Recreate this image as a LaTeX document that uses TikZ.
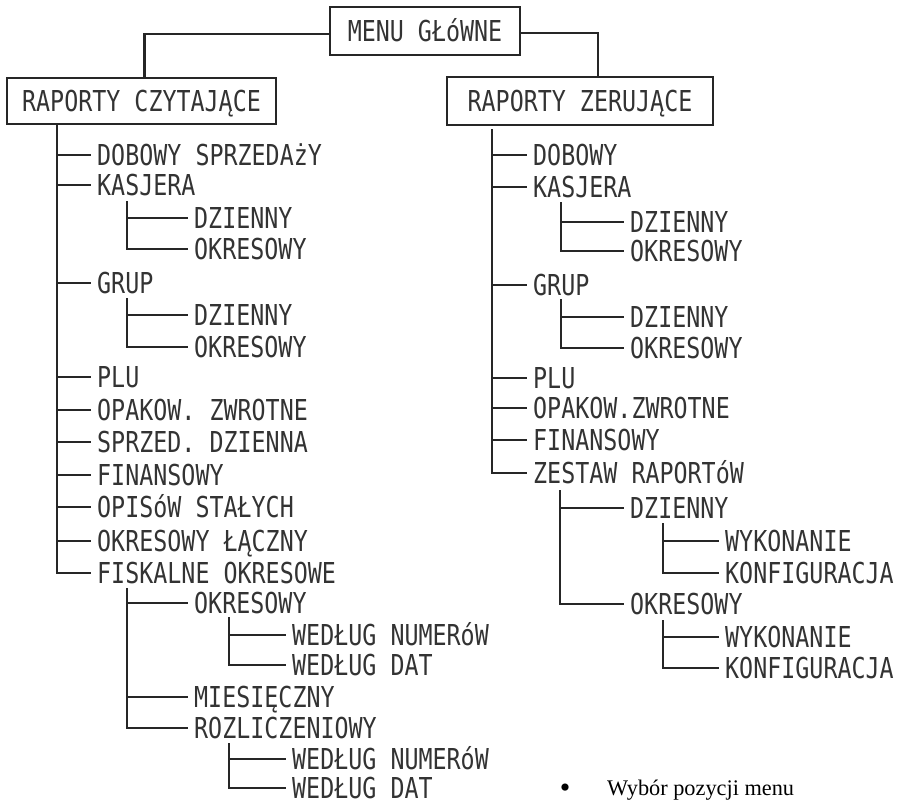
\documentclass[tikz,border=0pt]{standalone}
\usepackage{fontspec}
\setmainfont{Liberation Serif}
\newfontfamily\lcd[FakeStretch=0.81]{DejaVu Sans Mono}
\begin{document}
\begin{tikzpicture}[x=1pt,y=-1pt,
  lcdfont/.style={font=\lcd\fontsize{28.8pt}{30pt}\selectfont, text=black!80},
  lbl/.style={lcdfont, anchor=west, inner xsep=6pt, inner ysep=0pt, text height=21pt, text depth=0pt},
  box/.style={lcdfont, draw=black!85, line width=1.3pt, inner sep=0pt, text height=21pt, text depth=0pt},
  conn/.style={line width=2.9pt, draw=black!85}]
\useasboundingbox (0,0) rectangle (906,804);

% boxes
\node[box, minimum width=190pt, minimum height=48pt] (menu) at (425,31) {MENU GŁóWNE};
\node[box, minimum width=269pt, minimum height=46pt] (rcz) at (141.5,101) {RAPORTY CZYTAJĄCE};
\node[box, minimum width=266pt, minimum height=48pt] (rzr) at (580,101) {RAPORTY ZERUJĄCE};

\draw[conn] ([yshift=-3pt]menu.west) -| ([xshift=3pt]rcz.north);
\draw[conn] ([yshift=-2pt]menu.east) -| ([xshift=18pt]rzr.north);

% left tree
\node[lbl] (l0) at (91,155) {DOBOWY SPRZEDAżY};
\node[lbl] (l1) at (91,185) {KASJERA};
\node[lbl] (l2) at (188,218) {DZIENNY};
\node[lbl] (l3) at (188,249) {OKRESOWY};
\node[lbl] (l4) at (91,283) {GRUP};
\node[lbl] (l5) at (188,315) {DZIENNY};
\node[lbl] (l6) at (188,347) {OKRESOWY};
\node[lbl] (l7) at (91,377) {PLU};
\node[lbl] (l8) at (91,410) {OPAKOW. ZWROTNE};
\node[lbl] (l9) at (91,442) {SPRZED. DZIENNA};
\node[lbl] (l10) at (91,475) {FINANSOWY};
\node[lbl] (l11) at (91,507) {OPISóW STAŁYCH};
\node[lbl] (l12) at (91,541) {OKRESOWY ŁĄCZNY};
\node[lbl] (l13) at (91,573) {FISKALNE OKRESOWE};
\node[lbl] (l14) at (188,603) {OKRESOWY};
\node[lbl] (l15) at (286,635) {WEDŁUG NUMERóW};
\node[lbl] (l16) at (286,665) {WEDŁUG DAT};
\node[lbl] (l17) at (188,697) {MIESIĘCZNY};
\node[lbl] (l18) at (188,728) {ROZLICZENIOWY};
\node[lbl] (l19) at (286,759) {WEDŁUG NUMERóW};
\node[lbl] (l20) at (286,788) {WEDŁUG DAT};

\coordinate (lT) at (57,124);
\foreach \n in {l0,l1,l4,l7,l8,l9,l10,l11,l12,l13} \draw[conn] (lT) |- (\n.west);
\coordinate (l1T) at (127,201);
\foreach \n in {l2,l3} \draw[conn] (l1T) |- (\n.west);
\coordinate (l4T) at (127,298);
\foreach \n in {l5,l6} \draw[conn] (l4T) |- (\n.west);
\coordinate (l13T) at (127,588);
\foreach \n in {l14,l17,l18} \draw[conn] (l13T) |- (\n.west);
\coordinate (l14T) at (229,617);
\foreach \n in {l15,l16} \draw[conn] (l14T) |- (\n.west);
\coordinate (l18T) at (229,743);
\foreach \n in {l19,l20} \draw[conn] (l18T) |- (\n.west);

% right tree
\node[lbl] (r0) at (527,155) {DOBOWY};
\node[lbl] (r1) at (527,187) {KASJERA};
\node[lbl] (r2) at (624,222) {DZIENNY};
\node[lbl] (r3) at (624,251) {OKRESOWY};
\node[lbl] (r4) at (527,285) {GRUP};
\node[lbl] (r5) at (624,317) {DZIENNY};
\node[lbl] (r6) at (624,348) {OKRESOWY};
\node[lbl] (r7) at (527,378) {PLU};
\node[lbl] (r8) at (527,408) {OPAKOW.ZWROTNE};
\node[lbl] (r9) at (527,440) {FINANSOWY};
\node[lbl] (r10) at (527,473) {ZESTAW RAPORTóW};
\node[lbl] (r11) at (624,508) {DZIENNY};
\node[lbl] (r12) at (719,541) {WYKONANIE};
\node[lbl] (r13) at (719,573) {KONFIGURACJA};
\node[lbl] (r14) at (624,604) {OKRESOWY};
\node[lbl] (r15) at (719,637) {WYKONANIE};
\node[lbl] (r16) at (719,668) {KONFIGURACJA};

\coordinate (rT) at (492,129);
\foreach \n in {r0,r1,r4,r7,r8,r9,r10} \draw[conn] (rT) |- (\n.west);
\coordinate (r1T) at (561,202);
\foreach \n in {r2,r3} \draw[conn] (r1T) |- (\n.west);
\coordinate (r4T) at (561,299);
\foreach \n in {r5,r6} \draw[conn] (r4T) |- (\n.west);
\coordinate (r10T) at (560,490);
\foreach \n in {r11,r14} \draw[conn] (r10T) |- (\n.west);
\coordinate (r11T) at (663,523);
\foreach \n in {r12,r13} \draw[conn] (r11T) |- (\n.west);
\coordinate (r14T) at (663,620);
\foreach \n in {r15,r16} \draw[conn] (r14T) |- (\n.west);

% note
\node[anchor=base, inner sep=0pt, font=\fontsize{30pt}{32pt}\selectfont] (bul) at (565,797) {•};
\node[anchor=base west, inner sep=0pt, font=\fontsize{22.3pt}{24pt}\selectfont] (note) at (607,795) {Wybór pozycji menu};
\end{tikzpicture}
\end{document}
